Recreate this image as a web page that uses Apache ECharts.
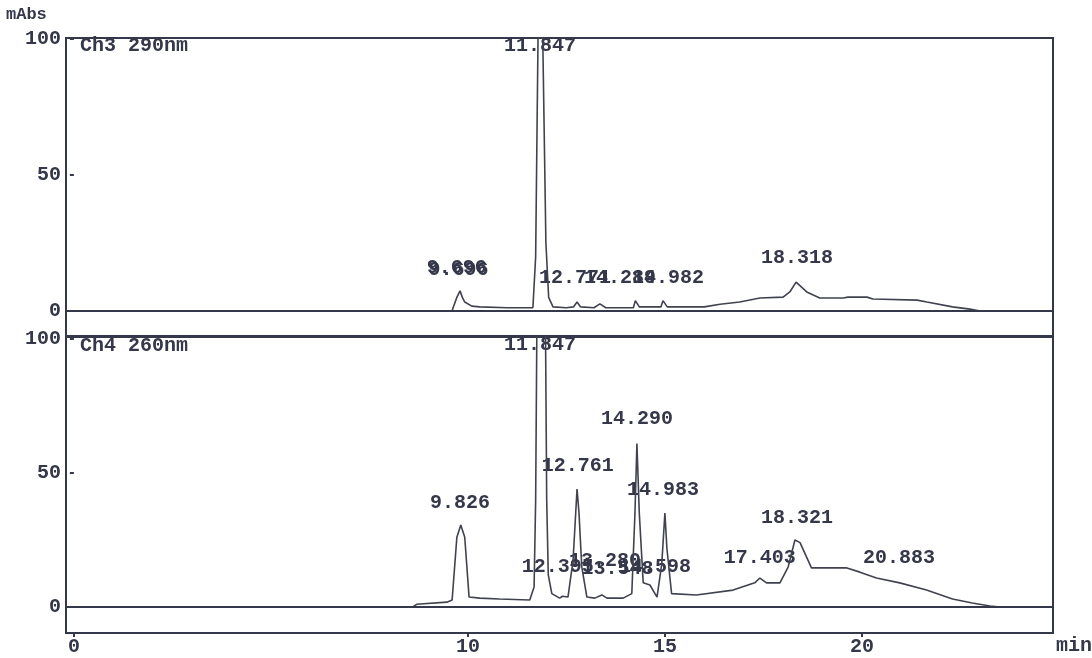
<!DOCTYPE html>
<html>
<head>
<meta charset="utf-8">
<title>Ch3 / Ch4 chromatogram</title>
<script src="https://cdn.jsdelivr.net/npm/echarts@6.0.0/dist/echarts.min.js"></script>
<style>
  html, body { margin: 0; padding: 0; background: #ffffff; }
  #chart { width: 1092px; height: 658px; }
</style>
</head>
<body>
<div id="chart"></div>
<script>
  // time (min), mAbs
  var ch3Trace = [
    [0, 0], [9.6, 0], [9.62, 1], [9.72, 5], [9.8, 7.4], [9.86, 5], [9.92, 3.3], [10.1, 1.8], [10.3, 1.5],
    [11.0, 1.2], [11.65, 1.2], [11.72, 20], [11.78, 100.5], [11.9, 100.5], [11.98, 25], [12.05, 5],
    [12.16, 1.5], [12.5, 1.2], [12.68, 1.5], [12.77, 3.3], [12.86, 1.5], [13.2, 1.2], [13.35, 2.6],
    [13.5, 1.2], [14.2, 1.2], [14.25, 3.8], [14.29, 4], [14.35, 1.5], [14.9, 1.5], [14.95, 3.8],
    [15.0, 4], [15.06, 1.5], [16.0, 1.5], [16.4, 2.5], [16.9, 3.3], [17.41, 4.8], [18.0, 5.1],
    [18.17, 7], [18.33, 10.6], [18.6, 7], [18.93, 4.8], [19.52, 4.8], [19.65, 5.1], [20.13, 5.1],
    [20.28, 4.4], [21.4, 4], [21.65, 3.3], [22.3, 1.5], [22.74, 0.7], [23.0, 0], [24.85, 0]
  ];
  var ch4Trace = [
    [0, 0], [8.6, 0], [8.7, 1], [9.47, 1.8], [9.6, 2.6], [9.72, 26], [9.82, 30.6], [9.92, 26],
    [10.03, 3.7], [10.3, 3.3], [10.8, 3], [11.57, 2.6], [11.68, 7.5], [11.72, 40], [11.75, 103],
    [11.97, 103], [12.0, 40], [12.04, 12], [12.13, 5], [12.33, 3.3], [12.4, 4], [12.54, 3.7],
    [12.67, 17.5], [12.77, 44], [12.82, 35], [12.89, 15], [13.02, 3.7], [13.22, 3.3], [13.4, 4.5],
    [13.53, 3.3], [13.94, 3.3], [14.16, 5], [14.24, 35], [14.29, 61], [14.35, 35], [14.45, 9],
    [14.62, 8.2], [14.8, 3.7], [14.92, 16], [15.0, 35], [15.05, 22], [15.17, 5], [15.8, 4.5],
    [16.73, 6.3], [17.28, 9], [17.41, 10.8], [17.58, 9], [17.92, 9], [18.13, 15], [18.3, 25],
    [18.43, 24], [18.72, 14.6], [19.27, 14.6], [19.6, 14.6], [19.95, 13], [20.37, 10.8],
    [20.96, 9], [21.64, 6.3], [22.3, 3], [22.8, 1.5], [23.25, 0.4], [23.5, 0], [24.85, 0]
  ];

  // peak labels: [text, time, height of label centre]
  var ch3Peaks = [
    ['9.696', 9.72, 16.0], ['9.696', 9.76, 15.0], ['11.847', 11.83, 97.4],
    ['12.771', 12.72, 12.1], ['14.289', 13.86, 12.1], ['14.982', 15.08, 12.1], ['18.318', 18.35, 19.5]
  ];
  var ch4Peaks = [
    ['11.847', 11.83, 97.8], ['9.826', 9.8, 38.8], ['12.761', 12.79, 52.6], ['14.290', 14.29, 70],
    ['14.983', 14.95, 43.7], ['12.395', 12.28, 15], ['13.280', 13.48, 17.2], ['13.548', 13.8, 14.2],
    ['14.598', 14.75, 15], ['17.403', 17.41, 18.3], ['18.321', 18.35, 33.2], ['20.883', 20.94, 18.3]
  ];

  var yTicks = [0, 50, 100];
  var xTicks = [0, 10, 15, 20];

  var ink = '#35374a';
  var mono = "'Liberation Mono', 'DejaVu Sans Mono', monospace";

  function peakSeries(list, idx) {
    return {
      type: 'scatter',
      xAxisIndex: idx,
      yAxisIndex: idx,
      symbolSize: 1,
      itemStyle: { color: 'rgba(0,0,0,0)', opacity: 1 },
      silent: true,
      label: {
        show: true,
        position: 'inside',
        formatter: '{b}',
        color: ink,
        opacity: 1,
        fontFamily: mono,
        fontWeight: 'bold',
        fontSize: 20
      },
      data: list.map(function (p) { return { name: p[0], value: [p[1], p[2]] }; })
    };
  }

  function traceSeries(data, idx) {
    return {
      type: 'line',
      xAxisIndex: idx,
      yAxisIndex: idx,
      showSymbol: false,
      silent: true,
      lineStyle: { color: '#40434f', width: 1.6 },
      data: data,
      markLine: {
        silent: true,
        symbol: 'none',
        label: { show: false },
        lineStyle: { color: ink, width: 2, type: 'solid' },
        data: [{ yAxis: 0 }]
      }
    };
  }

  function yAxisOf(idx, min, max) {
    return {
      type: 'value',
      gridIndex: idx,
      min: min,
      max: max,
      splitLine: { show: false },
      axisLine: { show: false },
      axisTick: { show: true, length: 4, customValues: yTicks, lineStyle: { color: ink, width: 2 } },
      axisLabel: {
        customValues: yTicks,
        margin: 5,
        color: ink,
        fontFamily: mono,
        fontWeight: 'bold',
        fontSize: 20
      }
    };
  }

  const myChart = echarts.init(document.getElementById('chart'));
  let option = {
    animation: false,
    backgroundColor: '#ffffff',
    grid: [
      { left: 66, right: 39, top: 38, height: 298, show: true, borderColor: ink, borderWidth: 2 },
      { left: 66, right: 39, top: 337, height: 296, show: true, borderColor: ink, borderWidth: 2 }
    ],
    xAxis: [
      {
        type: 'value', gridIndex: 0, min: -0.2, max: 24.85,
        axisLine: { show: false }, axisTick: { show: false }, axisLabel: { show: false },
        splitLine: { show: false }
      },
      {
        type: 'value', gridIndex: 1, min: -0.2, max: 24.85,
        axisLine: { show: true, onZero: false, lineStyle: { color: ink, width: 2 } },
        axisTick: { show: true, length: 4, customValues: xTicks, lineStyle: { color: ink, width: 2 } },
        axisLabel: {
          customValues: xTicks,
          margin: 4,
          color: ink,
          fontFamily: mono,
          fontWeight: 'bold',
          fontSize: 20
        },
        splitLine: { show: false }
      }
    ],
    yAxis: [yAxisOf(0, -9.2, 100.4), yAxisOf(1, -9.7, 100.7)],
    graphic: [
      { type: 'text', left: 6, top: 6, style: { text: 'mAbs', fill: ink, font: 'bold 17px ' + mono } },
      { type: 'text', left: 80, top: 36, style: { text: 'Ch3 290nm', fill: ink, font: 'bold 20px ' + mono } },
      { type: 'text', left: 80, top: 336, style: { text: 'Ch4 260nm', fill: ink, font: 'bold 20px ' + mono } },
      { type: 'text', left: 1056, top: 636, style: { text: 'min', fill: ink, font: 'bold 20px ' + mono } }
    ],
    series: [
      traceSeries(ch3Trace, 0),
      traceSeries(ch4Trace, 1),
      peakSeries(ch3Peaks, 0),
      peakSeries(ch4Peaks, 1)
    ]
  };
  myChart.setOption(option);
</script>
</body>
</html>
